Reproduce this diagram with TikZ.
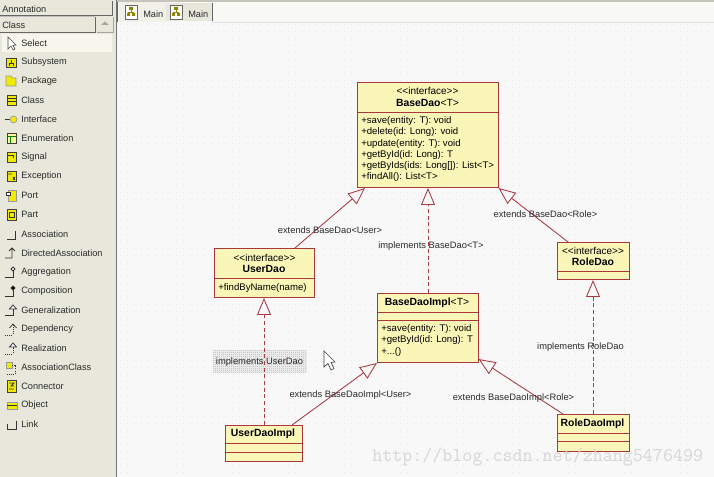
\documentclass[tikz,border=0pt]{standalone}
\usepackage{fontspec}
\setmainfont{Liberation Sans}
\newfontfamily\wmfont{Latin Modern Mono}
\usetikzlibrary{arrows.meta,calc}
\definecolor{panel}{HTML}{E7E7DB}
\definecolor{panelhi}{HTML}{F6F6EC}
\definecolor{canvas}{HTML}{F8F8F8}
\definecolor{griddot}{HTML}{E8E8E8}
\definecolor{umlfill}{HTML}{FAF6B8}
\definecolor{umlline}{HTML}{A8383C}
\definecolor{connline}{HTML}{A83C44}
\definecolor{icony}{HTML}{F0EA00}
\definecolor{ink}{HTML}{2A2A2A}
\tikzset{
  x=0.75pt,y=-0.75pt,
  umlbox/.style={draw=umlline,fill=umlfill,line width=0.75pt,inner sep=0pt,anchor=north west},
  divider/.style={draw=umlline,line width=0.7pt},
  umltext/.style={font=\fontsize{7.2}{8.4}\selectfont,text=black,inner sep=0pt},
  umlhead/.style={umltext,font=\fontsize{7.8}{8.4}\selectfont},
  umlstereo/.style={umltext,font=\fontsize{7.5}{8.4}\selectfont},
  umlleft/.style={umltext,anchor=north west,align=left},
  lbl/.style={font=\fontsize{7}{8.4}\selectfont,text=ink,inner sep=0pt},
  menu/.style={font=\fontsize{6.9}{8.4}\selectfont,text=ink,inner sep=0pt,anchor=west},
  generalize/.style={draw=connline,line width=0.65pt,-{Triangle[open,length=12.75pt,width=10.5pt,fill=none]}},
  realize/.style={generalize,densely dashed},
  ic/.style={draw=black!75,line width=0.5pt,fill=icony},
  icl/.style={draw=black!80,line width=0.55pt},
  icd/.style={icl,dash pattern=on 0.8pt off 0.8pt},
}
\begin{document}
\begin{tikzpicture}
\useasboundingbox (0,0) rectangle (714,477);
% canvas and dotted grid
\fill[canvas] (0,0) rectangle (714,477);
\foreach \gx in {120,127,...,712}
  \foreach \gy in {24,31,...,475}
    \fill[griddot] (\gx,\gy) rectangle +(1,1);
% tool palette
\fill[panel] (0,0) rectangle (116,477);
\draw[black!55,line width=0.8pt] (116.5,0) -- (116.5,477);
% tab strip
\fill[panel!30!white] (117,2) rectangle (714,22);
\fill[panel!60!white] (119,2) rectangle (166,22);
\fill[panel] (166,3) rectangle (212,21);
\fill[panel!85!black] (117,0) rectangle (714,2);
\draw[black!12,line width=0.5pt] (212,22) -- (714,22);
\draw[black!60,line width=0.7pt] (212,3) -- (212,21);
\draw[black!60,line width=0.5pt] (117.5,2) -- (117.5,22);
% palette headers
\draw[black!60,line width=0.6pt] (0,15.5) -- (112,15.5) -- (112,1);
\draw[black!60,line width=0.6pt] (0,32) -- (95,32) -- (95,17);
\draw[black!25,line width=0.6pt] (0,16.8) -- (95,16.8);
\draw[black!35,line width=0.6pt] (97,32) -- (113,32) -- (113,17);
\fill[black!35] (101,25) -- (105,21.5) -- (109,25) -- cycle;
\node[menu] (hdrA) at (2,9) {Annotation};
\node[menu] (hdrC) at (2,25) {Class};
% highlighted entry
\fill[panelhi] (2,34) rectangle (112,52);
% palette entries
\foreach \ty/\txt in {43/Select,62/Subsystem,81/Package,100/Class,119/Interface,138/Enumeration,157/Signal,176/Exception,195/Port,214/Part,234/Association,253/DirectedAssociation,272/Aggregation,291/Composition,310/Generalization,329/Dependency,348/Realization,367/AssociationClass,386/Connector,405/Object,424/Link}
  \node[menu] (item\ty) at (21,\ty) {\txt};
% palette icons
\draw[black!70,fill=white,line width=0.5pt] (8,37) -- (8,49) -- (11,46) -- (13,50) -- (15,49) -- (13,45.5) -- (16,45) -- cycle;
\draw[ic] (6,58) rectangle (16,67); \draw[icl] (9,66) -- (9,63) -- (13,63) -- (13,66) (11,63) -- (11,60);
\draw[ic,draw=black!40] (6,79) -- (6,76) -- (11,76) -- (12,78) -- (16,78) -- (16,86) -- (6,86) -- cycle;
\draw[ic] (7,95) rectangle (16,105); \draw[icl] (7,98.5) -- (16,98.5) (7,101.5) -- (16,101.5);
\draw[icl] (5,119.5) -- (10,119.5); \draw[ic,draw=black!40] (13.5,119.5) circle[radius=3.5];
\draw[ic,fill=icony!40] (7,133) rectangle (16,143); \draw[icl,draw=green!50!black] (7,136) -- (16,136) (10,136) -- (10,143);
\draw[ic] (7,152) rectangle (16,162); \draw[icl] (8,155) -- (13,155) -- (13,158);
\draw[ic] (7,171) rectangle (16,181); \draw[icl] (8,174) -- (12,174) (13,177) -- (15,180) (15,177) -- (13,180);
\draw[ic,draw=black!40] (8,190) rectangle (16,201); \draw[icl,fill=white] (6,192) rectangle (10,195);
\draw[ic] (7,209) rectangle (16,220); \draw[icl] (9,212) rectangle (14,217);
\draw[icl] (7,239) -- (15,239) -- (15,231);
\draw[icl] (5,258) -- (12,258) -- (12,248) (9,251) -- (12,248) -- (15,251);
\draw[icl] (5,277) -- (13,277) -- (13,271); \draw[icl,fill=white] (13,267) -- (15,269) -- (13,271) -- (11,269) -- cycle;
\draw[icl] (5,296) -- (13,296) -- (13,290); \draw[icl,fill=black] (13,286) -- (15,288) -- (13,290) -- (11,288) -- cycle;
\draw[icl] (5,315) -- (13,315) -- (13,309); \draw[icl,fill=white] (9.5,309) -- (13,305) -- (16.5,309) -- cycle;
\draw[icd] (5,335) -- (13,335) -- (13,325); \draw[icl] (9.5,328) -- (13,324) -- (16.5,328);
\draw[icd] (5,354) -- (13,354) -- (13,347); \draw[icl,fill=white] (9.5,347) -- (13,343) -- (16.5,347) -- cycle;
\draw[ic,draw=black!40] (6,362) rectangle (12,368); \draw[icd] (12,365) -- (15,365) -- (15,374) -- (6,374);
\draw[ic] (7,380) rectangle (16,392); \draw[icl] (9,383) -- (14,383) -- (11,386) -- (14,386) (9,389) -- (14,389);
\draw[ic,draw=black!40] (7,402) rectangle (17,409); \draw[icl] (7,405.5) -- (17,405.5);
\draw[icl] (7,424) -- (7,429) -- (16,429) -- (16,421);
% diagram tabs
\foreach \ix/\nm in {125/tabA,170/tabB}{
  \draw[black!60,fill=white,line width=0.5pt] (\ix,5) rectangle +(12,14);
  \fill[olive] (\ix+4,7) rectangle +(4,3) (\ix+2,13) rectangle +(3,3) (\ix+7,13) rectangle +(3,3);
  \draw[olive,line width=0.4pt] (\ix+6,10) -- (\ix+6,12) (\ix+3.5,13) -- (\ix+3.5,12) -- (\ix+8.5,12) -- (\ix+8.5,13);
  \node[menu] (\nm) at (\ix+18,14) {Main};
}
% shaded patch behind one label
\fill[black!8] (213,350) rectangle (307,373);
\foreach \gx in {213,215,...,306}
  \foreach \gy in {350,352,...,372}
    \fill[black!22] (\gx,\gy) rectangle +(1,1);
% mouse pointer
\draw[black!75,fill=white,line width=0.5pt] (324,351) -- (324,367) -- (328,363.5) -- (331,370) -- (334,368.5) -- (331,362.5) -- (335,362) -- cycle;
% classes
\node[umlbox,minimum width=105.75pt,minimum height=78.75pt] (BaseDao) at (356.5,82) {};
\node[umlbox,minimum width=75pt,minimum height=36.75pt] (UserDao) at (214,248) {};
\node[umlbox,minimum width=75.75pt,minimum height=51.75pt] (BaseDaoImpl) at (377,293) {};
\node[umlbox,minimum width=54pt,minimum height=27.75pt] (RoleDao) at (557,242) {};
\node[umlbox,minimum width=57.75pt,minimum height=27pt] (UserDaoImpl) at (225,425) {};
\node[umlbox,minimum width=54pt,minimum height=27.75pt] (RoleDaoImpl) at (557,414) {};
% compartment rules
\draw[divider] (356.5,112) -- (BaseDao.north east |- 0,112);
\draw[divider] (214,278) -- (UserDao.north east |- 0,278);
\draw[divider] (377,312) -- (BaseDaoImpl.north east |- 0,312);
\draw[divider] (377,320) -- (BaseDaoImpl.north east |- 0,320);
\draw[divider] (557,271) -- (RoleDao.north east |- 0,271);
\draw[divider] (225,443) -- (UserDaoImpl.north east |- 0,443);
\draw[divider] (225,452) -- (UserDaoImpl.north east |- 0,452);
\draw[divider] (557,433) -- (RoleDaoImpl.north east |- 0,433);
\draw[divider] (557,441) -- (RoleDaoImpl.north east |- 0,441);
% class texts
\node[umlstereo] (t1) at (427.5,90.5) {<{}<interface>{}>};
\node[umlhead] (t2) at (427.5,102.5) {\textbf{BaseDao}<T>};
\node[umlleft] (t3) at (361,116.5) {+save(entity: T): void\\+delete(id: Long): void\\+update(entity: T): void\\+getById(id: Long): T\\+getByIds(ids: Long[]): List<T>\\+findAll(): List<T>};
\node[umlstereo] (t4) at (264.5,257.5) {<{}<interface>{}>};
\node[umlhead] (t5) at (264,269) {\textbf{UserDao}};
\node[umlleft] (t6) at (218,283) {+findByName(name)};
\node[umlhead] (t7) at (427,302.5) {\textbf{BaseDaoImpl}<T>};
\node[umlleft] (t8) at (381,324.5) {+save(entity: T): void\\+getById(id: Long): T\\+...()};
\node[umlstereo] (t9) at (593,250.5) {<{}<interface>{}>};
\node[umlhead] (t10) at (593,262) {\textbf{RoleDao}};
\node[umlhead] (t11) at (263,434) {\textbf{UserDaoImpl}};
\node[umlhead] (t12) at (592.5,423.5) {\textbf{RoleDaoImpl}};
% connector ends
\coordinate (uTop) at (295,248);
\coordinate (bLeft) at (365,188);
\coordinate (rTop) at (568,242);
\coordinate (biTop) at (428,293);
\coordinate (bTip) at (428,188);
\coordinate (uiTop) at (264,425);
\coordinate (uBot) at (264,298);
\coordinate (uiTop2) at (292,425);
\coordinate (riTop) at (563,414);
\coordinate (biR) at (478.5,359);
\coordinate (riTop2) at (593,414);
\coordinate (rBot) at (593,280);
% generalizations and realizations
\draw[generalize] (uTop) -- (bLeft);
\draw[realize] (biTop) -- (bTip);
\draw[generalize] (rTop) -- (BaseDao.south east);
\draw[realize] (uiTop) -- (uBot);
\draw[generalize] (uiTop2) -- (BaseDaoImpl.south west);
\draw[generalize] (riTop) -- (biR);
\draw[realize] (riTop2) -- (rBot);
% connector labels
\node[lbl] (l1) at (330,230) {extends BaseDao<User>};
\node[lbl] (l2) at (431,246) {implements BaseDao<T>};
\node[lbl] (l3) at (545.5,214) {extends BaseDao<Role>};
\node[lbl] (l4) at (259.5,362) {implements UserDao};
\node[lbl] (l5) at (350.5,395) {extends BaseDaoImpl<User>};
\node[lbl] (l6) at (513.5,398) {extends BaseDaoImpl<Role>};
\node[lbl] (l7) at (580.5,347) {implements RoleDao};
% site address printed across the corner
\node[font=\wmfont\fontsize{14.6}{16}\selectfont,text=black!16,inner sep=0pt,anchor=west] (wm) at (372,457) {http://blog.csdn.net/zhang5476499};
\end{tikzpicture}
\end{document}
